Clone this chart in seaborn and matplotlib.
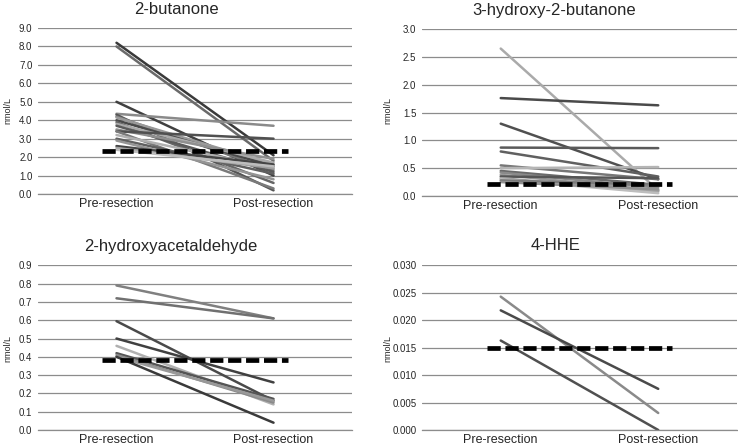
import matplotlib
matplotlib.use("Agg")
import matplotlib.pyplot as plt
import seaborn as sns
import pandas as pd

sns.set_style("white")
plt.rcParams['font.family'] = ['Liberation Sans', 'DejaVu Sans']

categories = ["Pre-resection", "Post-resection"]

# 2-butanone
butanone_pre = [8.2, 8.0, 5.0, 4.35, 4.3, 4.2, 4.15, 4.0, 3.9, 3.8, 3.7, 3.5, 3.4, 3.4, 3.2, 3.0, 2.9, 2.6, 2.5, 2.4]
butanone_post = [2.1, 1.8, 1.0, 3.7, 0.2, 1.3, 1.6, 1.5, 0.6, 1.7, 1.2, 1.9, 3.0, 0.3, 1.4, 1.1, 0.8, 1.6, 1.4, 1.5]
butanone_ref = 2.35

# 3-hydroxy-2-butanone
hb_pre = [2.65, 1.76, 1.30, 0.87, 0.80, 0.55, 0.50, 0.45, 0.42, 0.38, 0.35, 0.32, 0.30, 0.28, 0.25]
hb_post = [0.10, 1.63, 0.30, 0.86, 0.35, 0.30, 0.52, 0.20, 0.15, 0.10, 0.32, 0.08, 0.05, 0.20, 0.12]
hb_ref = 0.22

# 2-hydroxyacetaldehyde
ha_pre = [0.79, 0.72, 0.595, 0.50, 0.46, 0.42, 0.41, 0.40, 0.40]
ha_post = [0.61, 0.61, 0.16, 0.26, 0.14, 0.17, 0.15, 0.16, 0.04]
ha_ref = 0.38

# 4-HHE
hhe_pre = [0.0243, 0.0218, 0.0163]
hhe_post = [0.0031, 0.0075, 0.0]
hhe_ref = 0.015

grays = ["#3a3a3a", "#6a6a6a", "#404040", "#8a8a8a", "#555555", "#777777",
         "#999999", "#4a4a4a", "#666666", "#aaaaaa", "#5a5a5a", "#8f8f8f",
         "#505050", "#7a7a7a", "#b0b0b0", "#606060", "#959595", "#454545",
         "#a0a0a0", "#bdbdbd"]

panels = [
    ("2-butanone", butanone_pre, butanone_post, butanone_ref, 9.0, 1.0, "{:.1f}",
     [0.0515, 0.564, 0.4255, 0.373], (176, 10), (8, 110),
     None),
    ("3-hydroxy-2-butanone", hb_pre, hb_post, hb_ref, 3.0, 0.5, "{:.1f}",
     [0.5718, 0.5596, 0.4268, 0.375], (554, 11), (388, 110),
     ["#aaaaaa", "#4a4a4a", "#505050", "#5a5a5a", "#606060", "#777777", "#b5b5b5",
      "#6a6a6a", "#8a8a8a", "#999999", "#555555", "#a0a0a0", "#bdbdbd", "#7a7a7a", "#909090"]),
    ("2-hydroxyacetaldehyde", ha_pre, ha_post, ha_ref, 0.9, 0.1, "{:.1f}",
     [0.0515, 0.0337, 0.4255, 0.370], (171, 246), (8, 349),
     ["#808080", "#707070", "#4a4a4a", "#404040", "#b0b0b0", "#555555", "#8a8a8a", "#999999", "#3a3a3a"]),
    ("4-HHE", hhe_pre, hhe_post, hhe_ref, 0.030, 0.005, "{:.3f}",
     [0.5718, 0.0337, 0.4268, 0.370], (556, 245), (388, 349),
     ["#8a8a8a", "#4a4a4a", "#505050"]),
]

W, H = 738, 445
fig = plt.figure(figsize=(W / 100, H / 100), dpi=100)

for title, pre, post, ref, ymax, step, fmt, rect, tpos, ylpos, pal in panels:
    ax = fig.add_axes(rect)
    n = len(pre)
    df = pd.DataFrame({
        "subject": [i for i in range(n)] * 2,
        "phase": [categories[0]] * n + [categories[1]] * n,
        "value": list(pre) + list(post),
    })
    palette = pal if pal is not None else grays[:n]
    ax.set_axisbelow(True)
    nt = int(round(ymax / step))
    yticks = [i * step for i in range(nt + 1)]
    ax.set_yticks(yticks)
    ax.set_yticklabels([fmt.format(t) for t in yticks])
    ax.yaxis.grid(True, color="#8c8c8c", linewidth=0.9)
    sns.lineplot(data=df, x="phase", y="value", hue="subject", palette=palette,
                 linewidth=1.8, legend=False, ax=ax, sort=False, estimator=None,
                 units="subject")
    ax.hlines(ref, -0.09, 1.09, colors="black", linewidth=3.4,
              linestyles=(0, (2.8, 1.0)), zorder=5)
    ax.set_xlim(-0.5, 1.5)
    ax.set_ylim(0, ymax)
    ax.set_xticks([0, 1])
    ax.set_xticklabels(categories, fontsize=9)
    ax.set_xticks([-0.5, 0.5, 1.5], minor=True)
    ax.tick_params(axis="x", which="major", length=0, pad=3)
    ax.tick_params(axis="x", which="minor", length=3, color="#8c8c8c", direction="out")
    ax.tick_params(axis="y", length=3, color="#8c8c8c", direction="out", labelsize=7, pad=1)
    ax.set_xlabel("")
    ax.set_ylabel("")
    for s in ["top", "right", "left"]:
        ax.spines[s].set_visible(False)
    ax.spines["bottom"].set_color("#8c8c8c")
    ax.spines["bottom"].set_linewidth(0.9)
    fig.text(tpos[0] / W, 1 - tpos[1] / H, title, ha="center", va="center", fontsize=12)
    fig.text(ylpos[0] / W, 1 - ylpos[1] / H, "nmol/L", ha="center", va="center",
             rotation=90, fontsize=6.5)

fig.savefig("out.png", dpi=100)
